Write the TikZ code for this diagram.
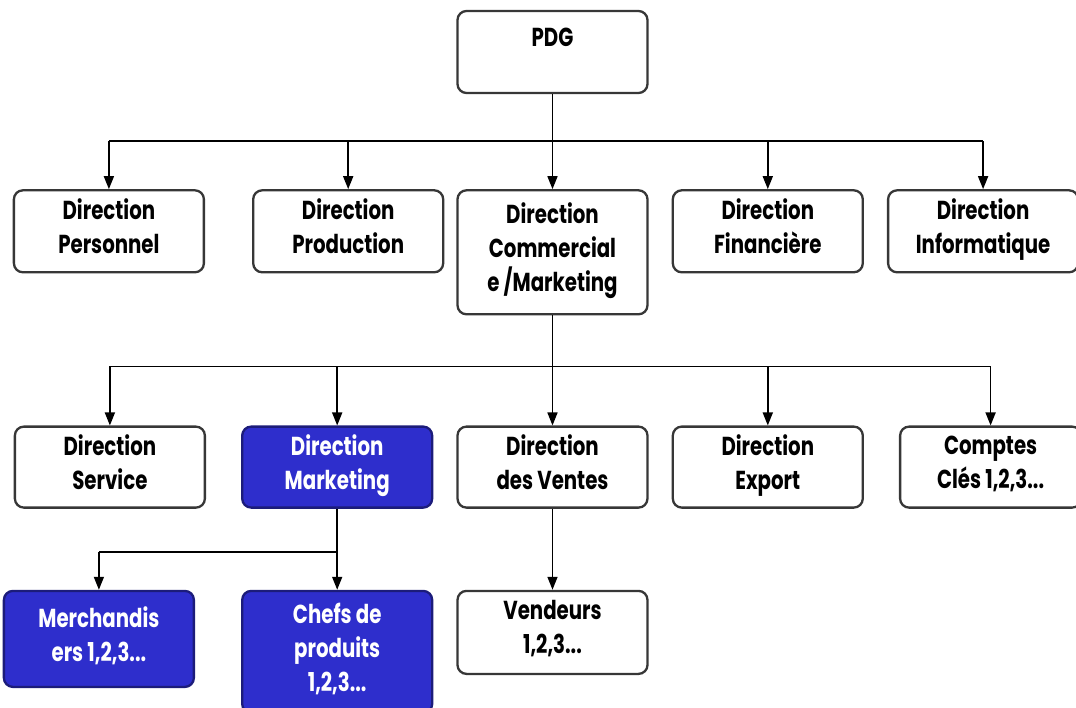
\documentclass[tikz,border=0pt]{standalone}
\usepackage{fontspec}
\setmainfont{Poppins}[FakeStretch=0.76]
\usepackage{xcolor}
\usepackage{tikz}
\usetikzlibrary{arrows.meta,positioning}
\definecolor{mktblue}{RGB}{46,46,204}
\definecolor{edgegray}{RGB}{55,55,55}

\begin{document}
\begin{tikzpicture}[
  every node/.style={font=\fontsize{26}{34}\selectfont\bfseries},
  box/.style={draw=edgegray, line width=2.3pt, rounded corners=9pt, align=center,
              minimum width=190pt, minimum height=82pt, fill=white, inner sep=2pt,
              execute at begin node=\strut, execute at end node=\strut},
  mkt/.style={box, fill=mktblue, text=white, draw=mktblue!60!black},
  link/.style={line width=1.6pt},
  arrow/.style={link, -{Triangle[length=13pt, width=10pt]}},
]
\useasboundingbox (-552.5pt,52pt) rectangle (523.5pt,-655pt);
% top: PDG
\node[box] (pdg) {PDG\\[-14pt]\mbox{}};
% first row: directions
\node[box, minimum height=124pt, below=95pt of pdg] (dcom) {Direction\\Commercial\\e /Marketing};
\node[box, left=12pt of dcom.north west, anchor=north east] (dprod) {Direction\\Production};
\node[box, left=47pt of dprod.north west, anchor=north east] (dpers) {Direction\\Personnel};
\node[box, right=23pt of dcom.north east, anchor=north west] (dfin) {Direction\\Financière};
\node[box, right=23pt of dfin.north east, anchor=north west] (dinfo) {Direction\\Informatique};
% second row: under commercial / marketing
\node[box, minimum height=81pt, below=110pt of dcom] (dvent) {Direction\\des Ventes};
\node[mkt, minimum height=81pt, left=23pt of dvent.north west, anchor=north east] (dmkt) {Direction\\Marketing};
\node[box, minimum height=81pt, left=35pt of dmkt.north west, anchor=north east] (dserv) {Direction\\Service};
\node[box, minimum height=81pt, right=23pt of dvent.north east, anchor=north west] (dexp) {Direction\\Export};
\node[box, minimum height=81pt, minimum width=181pt, right=35pt of dexp.north east, anchor=north west] (dcles) {Comptes\\Clés 1,2,3...};
% third row
\node[box, minimum height=83pt, below=81pt of dvent] (dvend) {Vendeurs\\1,2,3...};
\node[mkt, minimum height=122pt, below=81pt of dmkt] (dchef) {Chefs de\\produits\\1,2,3...};
\node[mkt, minimum height=96pt, left=46pt of dchef.north west, anchor=north east] (dmerch) {Merchandis\\ers 1,2,3...};
% bus lines
\coordinate[below=47pt of pdg.south] (bus1);
\coordinate[below=51pt of dcom.south] (bus2);
\coordinate[below=43pt of dmkt.south] (bus3);
% arrows
\draw[link] (pdg.south) -- (bus1);
\draw[link] (dpers.north |- bus1) -- (dinfo.north |- bus1);
\foreach \n in {dpers,dprod,dcom,dfin,dinfo}
  \draw[arrow] (\n.north |- bus1) -- (\n.north);
\draw[link] (dcom.south) -- (bus2);
\draw[link] (dserv.north |- bus2) -- (dcles.north |- bus2);
\foreach \n in {dserv,dmkt,dvent,dexp,dcles}
  \draw[arrow] (\n.north |- bus2) -- (\n.north);
\draw[link] (dmkt.south) -- (bus3);
\draw[link] (dmerch.north |- bus3) -- (bus3);
\draw[arrow] (dmerch.north |- bus3) -- (dmerch.north);
\draw[arrow] (bus3) -- (dchef.north);
\draw[arrow] (dvent.south) -- (dvend.north);
\end{tikzpicture}
\end{document}
